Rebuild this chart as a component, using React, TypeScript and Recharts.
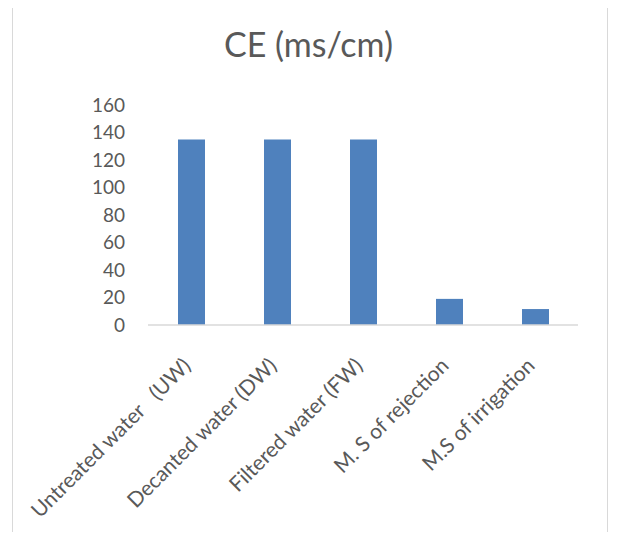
import { Bar, BarChart, XAxis, YAxis } from "recharts";

const categories = [
  "Untreated water   (UW)",
  "Decanted water (DW)",
  "Filtered water (FW)",
  "M. S of rejection",
  "M.S of irrigation",
];
const ceValues = [135, 135, 135, 19, 11.6];
const yTicks = [0, 20, 40, 60, 80, 100, 120, 140, 160];

const data = categories.map((name, i) => ({ name, ce: ceValues[i] }));

const FONT = "Lato, 'Open Sans', sans-serif";
const TEXT = "#595959";

const AngledTick = ({ x, y, payload }: any) => {
  const tx = x + 1;
  return (
    <text
      x={tx}
      y={y}
      transform={`rotate(-45, ${tx}, ${y})`}
      textAnchor="end"
      fill={TEXT}
      fontSize={21}
      fontFamily={FONT}
      style={{ whiteSpace: "pre" }}
    >
      {payload.value}
    </text>
  );
};

const App = () => {
  return (
    <div
      style={{
        position: "relative",
        width: 617,
        height: 540,
        margin: -8,
        overflow: "hidden",
        background: "#fff",
        fontFamily: FONT,
      }}
    >
      <div
        style={{
          position: "absolute",
          left: 12,
          top: 5,
          width: 596,
          height: 600,
          boxSizing: "border-box",
          border: "1px solid #d9d9d9",
        }}
      />
      <div
        style={{
          position: "absolute",
          top: 27,
          left: 0,
          width: 617,
          textAlign: "center",
          fontSize: 34,
          lineHeight: "34px",
          color: TEXT,
        }}
      >
        CE (ms/cm)
      </div>
      <div style={{ position: "absolute", left: 0, top: 0 }}>
        <BarChart
          width={617}
          height={540}
          data={data}
          margin={{ top: 105, right: 39, left: 0, bottom: 0 }}
        >
          <XAxis
            dataKey="name"
            interval={0}
            height={215}
            tickSize={0}
            tickMargin={42}
            tickLine={false}
            axisLine={{ stroke: "#d9d9d9", strokeWidth: 1.5 }}
            tick={<AngledTick />}
          />
          <YAxis
            width={148}
            domain={[0, 160]}
            ticks={yTicks}
            axisLine={false}
            tickLine={false}
            tickSize={0}
            tickMargin={23}
            tick={{ fill: TEXT, fontSize: 19, fontFamily: FONT }}
          />
          <Bar dataKey="ce" fill="#4f81bd" barSize={27} isAnimationActive={false} />
        </BarChart>
      </div>
    </div>
  );
};

export default App;
